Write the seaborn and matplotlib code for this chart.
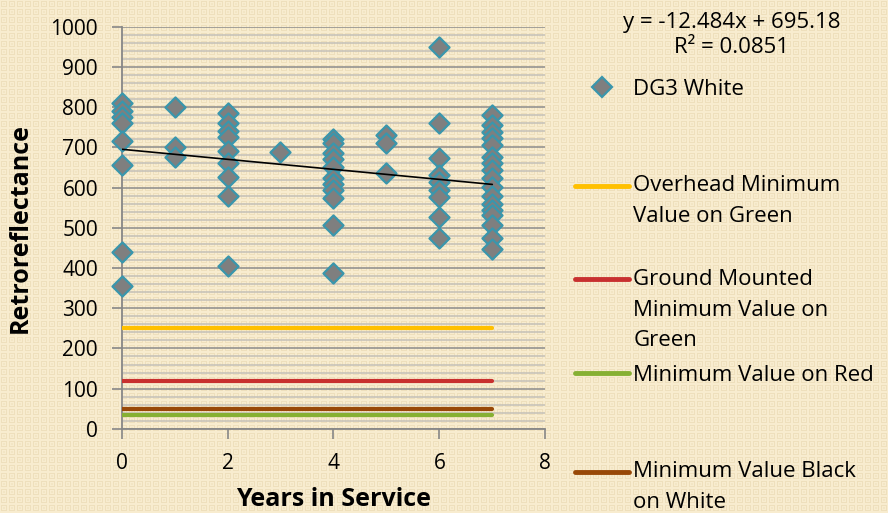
import numpy as np
import pandas as pd
import matplotlib
matplotlib.use("Agg")
import matplotlib.pyplot as plt
from matplotlib.lines import Line2D
from matplotlib.legend_handler import HandlerLine2D
from matplotlib.ticker import MultipleLocator
import seaborn as sns

# ---------------------------------------------------------------------------
# DATA
# ---------------------------------------------------------------------------
years_0 = [810, 790, 775, 760, 715, 655, 440, 355]
years_1 = [800, 700, 675]
years_2 = [785, 760, 740, 725, 690, 660, 625, 580, 405]
years_3 = [688]
years_4 = [720, 710, 685, 672, 652, 623, 610, 594, 573, 507, 387]
years_5 = [730, 710, 637]
years_6 = [950, 760, 673, 631, 614, 593, 577, 527, 474]
years_7 = [780, 755, 738, 722, 705, 677, 662, 644, 623, 602, 578, 560,
           544, 532, 507, 474, 446]

SLOPE = -12.484
INTERCEPT = 695.18
R2 = 0.0851

threshold_names = [
    "Overhead Minimum\nValue on Green",
    "Ground Mounted\nMinimum Value on\nGreen",
    "Minimum Value on Red",
    "Minimum Value Black\non White",
]
threshold_values = [250, 120, 35, 50]
threshold_colors = ["#FFC000", "#C8302F", "#86B033", "#984807"]
threshold_span = [0, 7]

BG = "#F6E8C6"
FONT = "Open Sans"
FS = 16
LINE_STEP_PT = 22.3   # baseline step of the legend text, points

rows = []
for yr, vals in enumerate([years_0, years_1, years_2, years_3,
                           years_4, years_5, years_6, years_7]):
    for v in vals:
        rows.append({"years": yr, "retro": v})
df = pd.DataFrame(rows)

thr = pd.DataFrame([
    {"series": n, "x": x, "y": v}
    for n, v in zip(threshold_names, threshold_values)
    for x in threshold_span
])


class TopLineHandler(HandlerLine2D):
    """Put the legend line next to the first text line (Excel style)."""
    def __init__(self, shift=0.0, **kw):
        super().__init__(**kw)
        self.shift = shift

    def create_artists(self, legend, orig_handle, xdescent, ydescent,
                       width, height, fontsize, trans):
        return super().create_artists(legend, orig_handle, xdescent,
                                      ydescent - 2 * self.shift, width,
                                      height, fontsize, trans)


# ---------------------------------------------------------------------------
# PLOT
# ---------------------------------------------------------------------------
sns.set_theme(style="white", rc={"text.color": "black",
                                 "axes.labelcolor": "black"})
plt.rcParams["font.family"] = [FONT, "DejaVu Sans"]

fig = plt.figure(figsize=(8.88, 5.13), dpi=100, facecolor=BG)

# textured slide background (small checker tiles)
tile = np.ones((8, 8, 3)) * np.array([248, 236, 207]) / 255
tile[[1, 6], 1:7] = np.array([238, 223, 188]) / 255
tile[1:7, [1, 6]] = np.array([238, 223, 188]) / 255
tile[3:5, 3:5] = np.array([242, 229, 196]) / 255
texture = np.tile(tile, (513 // 8 + 1, 888 // 8 + 1, 1))[:513, :888]
fig.figimage(texture, xo=0, yo=0, origin="upper", zorder=-1)

ax = fig.add_axes([0.137, 0.164, 0.477, 0.784])
ax.set_facecolor("none")

# threshold lines
pal = dict(zip(threshold_names, threshold_colors))
sns.lineplot(data=thr, x="x", y="y", hue="series", palette=pal,
             linewidth=3, legend=False, ax=ax, zorder=3,
             solid_capstyle="round")

# scatter
sns.scatterplot(data=df, x="years", y="retro", marker="D", s=105,
                color="#7F7F7F", edgecolor="#3A96AC", linewidth=1.6,
                ax=ax, zorder=4, legend=False, clip_on=False)

# linear trendline
xs = np.array([0, 7])
sns.lineplot(x=xs, y=SLOPE * xs + INTERCEPT, color="black", linewidth=1.2,
             ax=ax, zorder=5, legend=False)

ax.set_xlim(0, 8)
ax.set_ylim(0, 1000)
ax.xaxis.set_major_locator(MultipleLocator(2))
ax.yaxis.set_major_locator(MultipleLocator(100))
ax.yaxis.set_minor_locator(MultipleLocator(20))
ax.grid(which="major", axis="y", color="#8C8C8C", linewidth=1.1)
ax.grid(which="minor", axis="y", color="#C4C0B8", linewidth=1.1)
ax.set_axisbelow(True)

for s in ["top", "right"]:
    ax.spines[s].set_visible(False)
for s in ["left", "bottom"]:
    ax.spines[s].set_color("#878787")
    ax.spines[s].set_linewidth(1.3)

ax.tick_params(axis="both", which="major", direction="out", length=7,
               width=1.2, color="#878787", labelsize=15,
               labelcolor="black", left=True, bottom=True)
ax.tick_params(axis="y", pad=10)
ax.tick_params(axis="x", pad=10.5)
ax.tick_params(axis="y", which="minor", length=0)

ax.set_xlabel("Years in Service", fontsize=18, fontweight="bold", labelpad=9.5)
ax.set_ylabel("Retroreflectance", fontsize=18, fontweight="bold", labelpad=12.5)

# trendline equation
fig.text(0.824, 1 - 12 / 513, f"y = {SLOPE}x + {INTERCEPT}\nR\u00b2 = {R2}",
         ha="center", va="top", fontsize=FS, linespacing=1.27)

# legend, one entry per slot (Excel spacing)
slot_y = [87, 183, 277, 373, 469]
handles = [Line2D([], [], marker="D", linestyle="none", markersize=10,
                  markerfacecolor="#7F7F7F", markeredgecolor="#3A96AC",
                  markeredgewidth=1.6)]
labels = ["DG3 White"]
for n, c in zip(threshold_names, threshold_colors):
    handles.append(Line2D([], [], color=c, linewidth=3.5,
                          solid_capstyle="round"))
    labels.append(n)

for h, lab, yp in zip(handles, labels, slot_y):
    n_lines = lab.count("\n") + 1
    hmap = {h: TopLineHandler(shift=(n_lines - 1) / 2 * LINE_STEP_PT)}
    leg = fig.legend([h], [lab], loc="upper left",
                     bbox_to_anchor=(0.648, 1 - (yp - 8) / 513),
                     frameon=False, fontsize=FS, handlelength=2.4,
                     handletextpad=0.2, borderpad=0, borderaxespad=0,
                     labelspacing=0, handler_map=hmap)
    for t in leg.get_texts():
        t.set_linespacing(1.6)

fig.savefig("out.png", dpi=100, facecolor=BG)
